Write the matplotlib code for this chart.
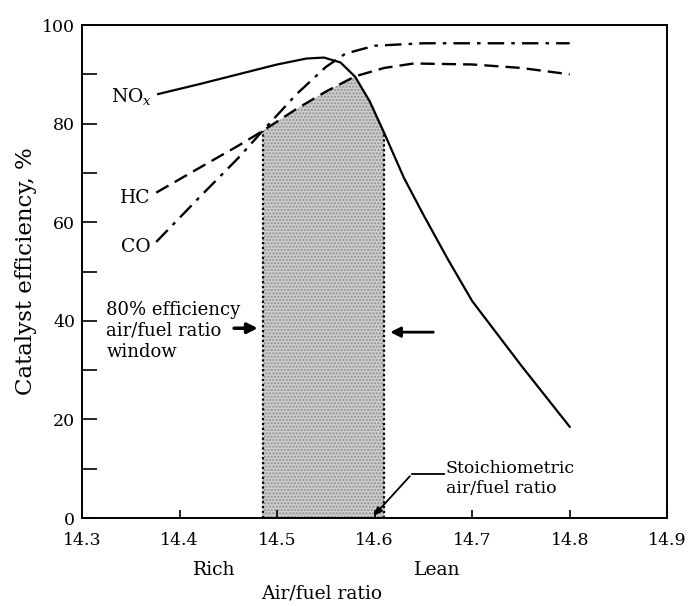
import numpy as np
import matplotlib
matplotlib.use("Agg")
import matplotlib.pyplot as plt

plt.rcParams['font.family'] = ['DejaVu Serif']
plt.rcParams['mathtext.fontset'] = 'dejavuserif'

# ---- data ----
nox_x = [14.378, 14.42, 14.46, 14.50, 14.53, 14.548, 14.565, 14.58, 14.595, 14.61, 14.63, 14.65, 14.675, 14.70, 14.75, 14.80]
nox_y = [86.0, 88.0, 90.0, 92.0, 93.2, 93.4, 92.4, 89.5, 84.5, 78.0, 69.0, 61.5, 52.5, 44.0, 31.0, 18.5]

hc_x = [14.376, 14.42, 14.46, 14.485, 14.52, 14.55, 14.58, 14.61, 14.64, 14.70, 14.75, 14.80]
hc_y = [66.0, 71.0, 75.5, 78.5, 83.0, 86.5, 89.6, 91.3, 92.2, 92.0, 91.3, 90.0]

co_x = [14.376, 14.42, 14.46, 14.485, 14.52, 14.55, 14.57, 14.60, 14.65, 14.70, 14.80]
co_y = [56.0, 65.0, 73.0, 78.5, 86.0, 91.5, 94.2, 95.8, 96.3, 96.3, 96.3]

window = [14.485, 14.61]
stoich = 14.597

x_ticks = [14.3, 14.4, 14.5, 14.6, 14.7, 14.8, 14.9]
x_ticklabels = ["14.3", "14.4", "14.5", "14.6", "14.7", "14.8", "14.9"]
y_ticks = [0, 20, 40, 60, 80, 100]
y_minor = [10, 30, 50, 70, 90]

fig = plt.figure(figsize=(6.9, 6.06), dpi=100)
ax = fig.add_axes([0.119, 0.1452, 0.848, 0.8135])
ax.set_xlim(14.3, 14.9)
ax.set_ylim(0, 100)

# shaded window
gx = np.linspace(window[0], window[1], 200)
top = np.minimum.reduce([np.interp(gx, nox_x, nox_y),
                         np.interp(gx, hc_x, hc_y),
                         np.interp(gx, co_x, co_y)])
ax.fill_between(gx, 0, top, facecolor='#cdcdcd', edgecolor='#8f8f8f',
                hatch='.....', linewidth=0, zorder=1)

# window boundaries
for wx in window:
    ytop = float(np.min([np.interp(wx, nox_x, nox_y), np.interp(wx, hc_x, hc_y), np.interp(wx, co_x, co_y)]))
    ax.plot([wx, wx], [0, ytop], linestyle=(0, (1, 1.2)), color='black', lw=1.6, zorder=3)

# curves
ax.plot(nox_x, nox_y, color='black', lw=1.6, zorder=4)
ax.plot(hc_x, hc_y, color='black', lw=1.7, linestyle=(0, (6, 3)), zorder=4)
ax.plot(co_x, co_y, color='black', lw=1.7, linestyle=(0, (7, 3, 1.5, 3)), zorder=4)

# curve labels
fs = 13.5
ax.text(14.372, 85.5, r"NO$_x$", ha='right', va='center', fontsize=fs)
ax.text(14.370, 65.0, "HC", ha='right', va='center', fontsize=fs)
ax.text(14.370, 55.0, "CO", ha='right', va='center', fontsize=fs)

# window annotation
ax.text(14.325, 44.0, "80% efficiency\nair/fuel ratio\nwindow", ha='left', va='top',
        fontsize=13, linespacing=1.2)
ax.annotate("", xy=(window[0] - 0.002, 38.5), xytext=(window[0] - 0.032, 38.5),
            arrowprops=dict(arrowstyle='-|>,head_length=0.6,head_width=0.3', color='black', lw=2.5))
ax.annotate("", xy=(window[1] + 0.003, 37.7), xytext=(window[1] + 0.053, 37.7),
            arrowprops=dict(arrowstyle='-|>,head_length=0.6,head_width=0.3', color='black', lw=2.0))

# stoichiometric annotation
ax.text(14.673, 8.0, "Stoichiometric\nair/fuel ratio", ha='left', va='center',
        fontsize=12.5, linespacing=1.25)
ax.plot([14.671, 14.638], [8.9, 8.9], color='black', lw=1.3)
ax.annotate("", xy=(stoich, 0.0), xytext=(14.638, 8.9),
            arrowprops=dict(arrowstyle='-|>,head_length=0.5,head_width=0.2', color='black', lw=1.3))

# axes styling
ax.set_xticks(x_ticks)
ax.set_xticklabels(x_ticklabels, fontsize=12.5)
ax.set_yticks(y_ticks)
ax.set_yticklabels([str(v) for v in y_ticks], fontsize=12.5)
ax.set_yticks(y_minor, minor=True)
ax.tick_params(axis='y', which='both', direction='in', length=11, width=1.2, pad=5)
ax.tick_params(axis='x', which='major', direction='in', length=6, width=1.2, pad=10)
for s in ax.spines.values():
    s.set_linewidth(1.4)

ax.set_ylabel("Catalyst efficiency, %", fontsize=16.5, labelpad=4)
ax.text(14.435, -10.5, "Rich", ha='center', va='center', fontsize=13.5)
ax.text(14.664, -10.5, "Lean", ha='center', va='center', fontsize=13.5)
ax.text(14.546, -15.3, "Air/fuel ratio", ha='center', va='center', fontsize=13.5, clip_on=False)

fig.savefig("out.png", dpi=100)
